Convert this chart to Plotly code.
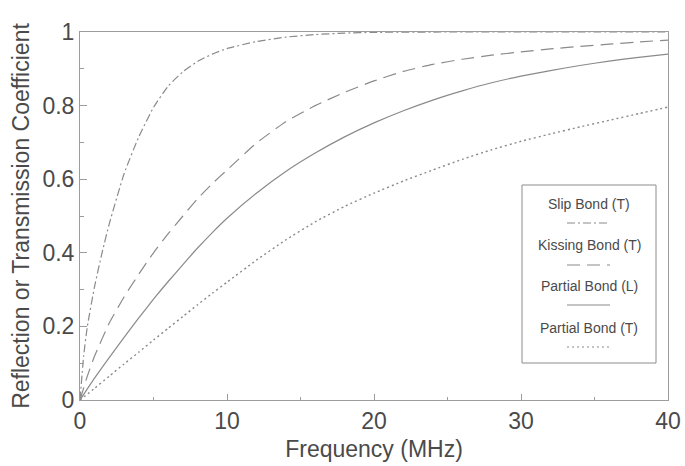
import plotly.graph_objects as go

# ---- data ----
slip_f = [0, 0.25, 0.5, 1, 1.5, 2, 3, 4, 5, 6, 7, 8, 9, 10, 12, 14, 16, 18, 20, 25, 30, 35, 40]
slip_v = [0, 0.12, 0.20, 0.31, 0.40, 0.48, 0.615, 0.715, 0.795, 0.853, 0.892, 0.920, 0.940, 0.955,
          0.974, 0.986, 0.993, 0.997, 0.999, 1.0, 1.0, 1.0, 1.0]

kiss_f = [0, 0.5, 1, 2, 3, 4, 5, 6, 7, 8, 9, 10, 12, 14, 16, 18, 20, 22, 24, 26, 28, 30, 32, 34, 36, 38, 40]
kiss_v = [0, 0.065, 0.12, 0.21, 0.28, 0.342, 0.40, 0.452, 0.50, 0.547, 0.588, 0.625, 0.698, 0.756,
          0.80, 0.836, 0.867, 0.893, 0.912, 0.926, 0.937, 0.946, 0.954, 0.961, 0.967, 0.973, 0.978]

partL_f = [0, 1, 2, 3, 4, 5, 6, 7, 8, 9, 10, 12, 14, 16, 18, 20, 22, 24, 26, 28, 30, 32, 34, 36, 38, 40]
partL_v = [0, 0.06, 0.116, 0.17, 0.223, 0.274, 0.322, 0.368, 0.413, 0.455, 0.494, 0.562, 0.621,
           0.671, 0.715, 0.753, 0.786, 0.815, 0.84, 0.862, 0.88, 0.895, 0.909, 0.921, 0.931, 0.94]

partT_f = [0, 1, 2, 3, 4, 5, 6, 7, 8, 9, 10, 12, 14, 16, 18, 20, 22, 24, 26, 28, 30, 32, 34, 36, 38, 40]
partT_v = [0, 0.032, 0.065, 0.098, 0.13, 0.163, 0.195, 0.227, 0.259, 0.29, 0.32, 0.38, 0.435, 0.484,
           0.526, 0.562, 0.595, 0.625, 0.654, 0.68, 0.703, 0.723, 0.742, 0.76, 0.778, 0.796]

series_names = ["Slip Bond (T)", "Kissing Bond (T)", "Partial Bond (L)", "Partial Bond (T)"]
x_ticks = [0, 10, 20, 30, 40]
y_ticks = [0, 0.2, 0.4, 0.6, 0.8, 1]
y_tick_text = ["0", "0.2", "0.4", "0.6", "0.8", "1"]

# ---- styles ----
LINE_C = "#8a8a8a"
TEXT_C = "#4a4a4a"
AXIS_C = "#9c9c9c"
FONT = "Liberation Sans, Arial, sans-serif"
dashes = ["8px,3px,2px,3px", "13px,7px", "solid", "2px,3px"]
widths = [1.2, 1.2, 1.2, 1.4]

fig = go.Figure()
for fx, fy, name, d, w in zip([slip_f, kiss_f, partL_f, partT_f],
                              [slip_v, kiss_v, partL_v, partT_v],
                              series_names, dashes, widths):
    fig.add_trace(go.Scatter(x=fx, y=fy, mode="lines", name=name,
                             line=dict(color=LINE_C, width=w, dash=d, shape="spline", smoothing=0.5),
                             showlegend=False))

# ---- custom legend (text above line sample), paper coordinates ----
L, T = 80, 32
PW, PH = 588, 368
def px(x):
    return (x - L) / PW
def py(y):
    return (T + PH - y) / PH

shapes = [dict(type="rect", xref="paper", yref="paper",
               x0=px(522), x1=px(656), y0=py(363), y1=py(185),
               line=dict(color="#8c8c8c", width=1), fillcolor="white", layer="above")]
annos = []
text_y = [204, 245, 286, 328]
samp_y = [223, 265, 305, 347]
for name, d, ty, sy in zip(series_names, dashes, text_y, samp_y):
    annos.append(dict(xref="paper", yref="paper", x=px(589), y=py(ty), text=name,
                      showarrow=False, xanchor="center", yanchor="middle",
                      font=dict(family=FONT, size=14, color=TEXT_C)))
    shapes.append(dict(type="line", xref="paper", yref="paper",
                       x0=px(567), x1=px(610), y0=py(sy), y1=py(sy),
                       line=dict(color=LINE_C, width=1.2, dash=d), layer="above"))

fig.update_layout(
    width=685, height=466,
    margin=dict(l=L, r=685 - L - PW, t=T, b=466 - T - PH),
    paper_bgcolor="white", plot_bgcolor="white",
    font=dict(family=FONT, color=TEXT_C),
    shapes=shapes, annotations=annos,
)
fig.update_xaxes(range=[0, 40], tickvals=x_ticks, ticks="inside", ticklen=6, tickcolor=AXIS_C,
                 minor=dict(ticks="inside", dtick=5, ticklen=3, tickcolor=AXIS_C),
                 showline=True, linecolor=AXIS_C, linewidth=1, mirror=True,
                 showgrid=False, zeroline=False, automargin=False,
                 tickfont=dict(size=23, color=TEXT_C),
                 title=dict(text="Frequency (MHz)", font=dict(size=23, color=TEXT_C), standoff=8))
fig.update_yaxes(range=[0, 1], tickvals=y_ticks, ticktext=y_tick_text, ticks="inside", ticklen=7,
                 tickcolor=AXIS_C,
                 minor=dict(ticks="inside", dtick=0.1, ticklen=4, tickcolor=AXIS_C),
                 showline=True, linecolor=AXIS_C, linewidth=1, mirror=True,
                 showgrid=False, zeroline=False, automargin=False,
                 tickfont=dict(size=23, color=TEXT_C),
                 title=dict(text="Reflection or Transmission Coefficient",
                            font=dict(size=23, color=TEXT_C), standoff=6))

fig.write_html("out.html")
